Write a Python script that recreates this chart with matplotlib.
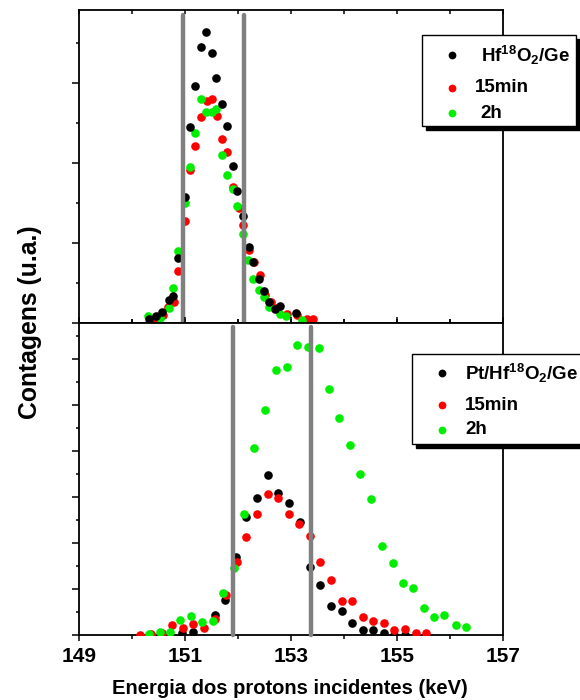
import numpy as np
import matplotlib
matplotlib.use('Agg')
import matplotlib.pyplot as plt
from matplotlib.lines import Line2D
from matplotlib.patches import Rectangle
from matplotlib.ticker import MultipleLocator, FixedLocator

plt.rcParams['font.family'] = 'Liberation Sans'
plt.rcParams['font.weight'] = 'bold'
plt.rcParams['mathtext.fontset'] = 'custom'
plt.rcParams['mathtext.rm'] = 'Liberation Sans:bold'
plt.rcParams['mathtext.bf'] = 'Liberation Sans:bold'
plt.rcParams['mathtext.default'] = 'rm'

# ---- upper panel: Hf18O2/Ge ----
hf_asdep_x = [150.33, 150.45, 150.57, 150.70, 150.78, 150.87, 151.00, 151.09, 151.19, 151.30,
              151.40, 151.50, 151.59, 151.70, 151.79, 151.90, 151.99, 152.10, 152.20, 152.29,
              152.40, 152.49, 152.59, 152.70, 152.79, 153.09]
hf_asdep_y = [4, 7, 11, 23, 27, 65, 126, 196, 237, 276,
              291, 270, 245, 219, 197, 157, 132, 107, 76, 61,
              44, 32, 21, 14, 17, 10]

hf_15min_x = [150.35, 150.47, 150.59, 150.68, 150.80, 150.87, 151.00, 151.09, 151.19, 151.30,
              151.42, 151.50, 151.60, 151.70, 151.80, 151.91, 152.01, 152.10, 152.21, 152.30,
              152.42, 152.51, 152.62, 152.72, 152.92, 153.11, 153.30, 153.41]
hf_15min_y = [3, 5, 8, 16, 21, 52, 102, 153, 177, 206,
              222, 224, 207, 184, 171, 136, 115, 98, 73, 61,
              48, 28, 21, 15, 9, 8, 4, 4]

hf_2h_x = [150.31, 150.53, 150.70, 150.78, 150.87, 151.00, 151.09, 151.19, 151.30, 151.40,
           151.50, 151.58, 151.70, 151.79, 151.90, 151.99, 152.10, 152.19, 152.29, 152.40,
           152.49, 152.59, 152.79, 152.91, 153.20]
hf_2h_y = [7, 5, 15, 35, 72, 120, 156, 190, 224, 211,
           211, 214, 168, 148, 134, 117, 89, 63, 44, 33,
           26, 16, 9, 7, 3]

# ---- lower panel: Pt/Hf18O2/Ge ----
pt_asdep_x = [150.95, 151.15, 151.57, 151.75, 151.96, 152.15, 152.35, 152.57, 152.76, 152.96,
              153.17, 153.36, 153.55, 153.75, 153.96, 154.15, 154.35, 154.55, 154.75, 154.95,
              155.15]
pt_asdep_y = [2, 3, 20, 35, 78, 118, 137, 160, 142, 132,
              113, 68, 50, 29, 24, 12, 5, 5, 2, 0,
              0]

pt_15min_x = [150.15, 150.35, 150.56, 150.75, 150.96, 151.16, 151.36, 151.56, 151.77, 151.98,
              152.15, 152.36, 152.56, 152.76, 152.96, 153.16, 153.36, 153.55, 153.75, 153.96,
              154.15, 154.35, 154.55, 154.75, 154.95, 155.15, 155.35, 155.55]
pt_15min_y = [0.5, 1, 2, 10, 7, 11, 7, 16, 40, 73,
              98, 121, 141, 137, 121, 111, 99, 73, 55, 34,
              34, 18, 14, 12, 5, 6, 2, 2]

pt_2h_x = [150.33, 150.52, 150.71, 150.91, 151.11, 151.32, 151.52, 151.72, 151.92, 152.12,
           152.31, 152.51, 152.72, 152.92, 153.12, 153.32, 153.52, 153.72, 153.91, 154.11,
           154.30, 154.50, 154.71, 154.92, 155.11, 155.31, 155.50, 155.70, 155.89, 156.11,
           156.30]
pt_2h_y = [1, 3, 3, 15, 19, 13, 14, 42, 67, 121,
           187, 225, 265, 268, 290, 288, 287, 246, 217, 190,
           161, 136, 89, 72, 52, 47, 27, 18, 20, 10,
           8]

hf_lines = [150.96, 152.12]
pt_lines = [151.91, 153.38]

x_major = [149, 151, 153, 155, 157]
labels_top = ['Hf$^{18}$O$_{2}$/Ge', '15min', '2h']
labels_bot = ['Pt/Hf$^{18}$O$_{2}$/Ge', '15min', '2h']
colors = ['black', '#ff0000', '#00ee00']

W, H = 580, 700
fig = plt.figure(figsize=(W / 100, H / 100), dpi=100)
ax1 = fig.add_axes([79 / W, 1 - 323 / H, 424 / W, 313 / H])
ax2 = fig.add_axes([79 / W, 1 - 635 / H, 424 / W, 312 / H])

ms = 6.2
# upper panel: red, green, then black on top
ax1.plot(hf_15min_x, hf_15min_y, 'o', color=colors[1], ms=ms, mec='none', zorder=3)
ax1.plot(hf_2h_x, hf_2h_y, 'o', color=colors[2], ms=ms, mec='none', zorder=4)
ax1.plot(hf_asdep_x, hf_asdep_y, 'o', color=colors[0], ms=ms, mec='none', zorder=5)
# lower panel: black, red, then green on top
ax2.plot(pt_asdep_x, pt_asdep_y, 'o', color=colors[0], ms=ms, mec='none', zorder=3)
ax2.plot(pt_15min_x, pt_15min_y, 'o', color=colors[1], ms=ms, mec='none', zorder=4)
ax2.plot(pt_2h_x, pt_2h_y, 'o', color=colors[2], ms=ms, mec='none', zorder=5)

for xv in hf_lines:
    ax1.axvline(xv, ymin=0, ymax=0.984, color='#808080', lw=3.2,
                solid_capstyle='round', clip_on=False, zorder=6)
for xv in pt_lines:
    ax2.axvline(xv, ymin=0, ymax=0.987, color='#808080', lw=3.2,
                solid_capstyle='round', clip_on=False, zorder=6)

for ax, ytop, ystep in [(ax1, 313, 80), (ax2, 312, 46)]:
    ax.set_xlim(149, 157)
    ax.set_ylim(0, ytop)
    ax.xaxis.set_major_locator(FixedLocator(x_major))
    ax.xaxis.set_minor_locator(MultipleLocator(1))
    ax.yaxis.set_major_locator(MultipleLocator(ystep))
    ax.yaxis.set_minor_locator(MultipleLocator(ystep / 2))
    ax.tick_params(axis='y', which='major', direction='out', length=5, width=1.1,
                   labelleft=False)
    ax.tick_params(axis='y', which='minor', direction='out', length=2.5, width=1.1)
    for s in ax.spines.values():
        s.set_linewidth(1.3)

ax1.tick_params(axis='x', which='both', direction='in', top=True, bottom=True,
                length=3, width=1.1, labelbottom=False)
ax2.tick_params(axis='x', which='both', top=True, width=1.1)
ax2.tick_params(axis='x', which='major', direction='out', length=4.5, pad=4, labelsize=15)
ax2.tick_params(axis='x', which='minor', direction='out', length=3)
for t in ax2.get_xticklabels():
    t.set_fontweight('bold')

fig.text(30 / W, 1 - 322 / H, 'Contagens (u.a.)', rotation=90, fontsize=17.8,
         fontweight='bold', ha='center', va='center')
fig.text(290 / W, 1 - 689 / H, 'Energia dos protons incidentes (keV)', fontsize=14.5,
         fontweight='bold', ha='center', va='center')


def draw_legend(x0, y0, x1, y1, mx, rows, labels, tx):
    sh = Rectangle((x0 / W + 3.5 / W, 1 - (y1 + 3.5) / H), (x1 - x0) / W, (y1 - y0) / H,
                   transform=fig.transFigure, facecolor='black', edgecolor='black',
                   clip_on=False, zorder=20)
    box = Rectangle((x0 / W, 1 - y1 / H), (x1 - x0) / W, (y1 - y0) / H,
                    transform=fig.transFigure, facecolor='white', edgecolor='black',
                    lw=1.0, clip_on=False, zorder=21)
    fig.add_artist(sh)
    fig.add_artist(box)
    for ry, lab, col, txx in zip(rows, labels, colors, tx):
        fig.add_artist(Line2D([mx / W], [1 - ry / H], marker='o', ms=5.6, color=col,
                              mec='none', transform=fig.transFigure, zorder=22))
        fig.text(txx / W, 1 - ry / H, lab, fontsize=13.5, fontweight='bold',
                 ha='left', va='center', zorder=23)


draw_legend(422, 35, 576, 126, 452, [55, 88, 113], labels_top, [481, 475, 480])
draw_legend(412, 354, 600, 444, 442, [373, 405, 430], labels_bot, [465, 465, 465])

fig.savefig('out.png', dpi=100)
